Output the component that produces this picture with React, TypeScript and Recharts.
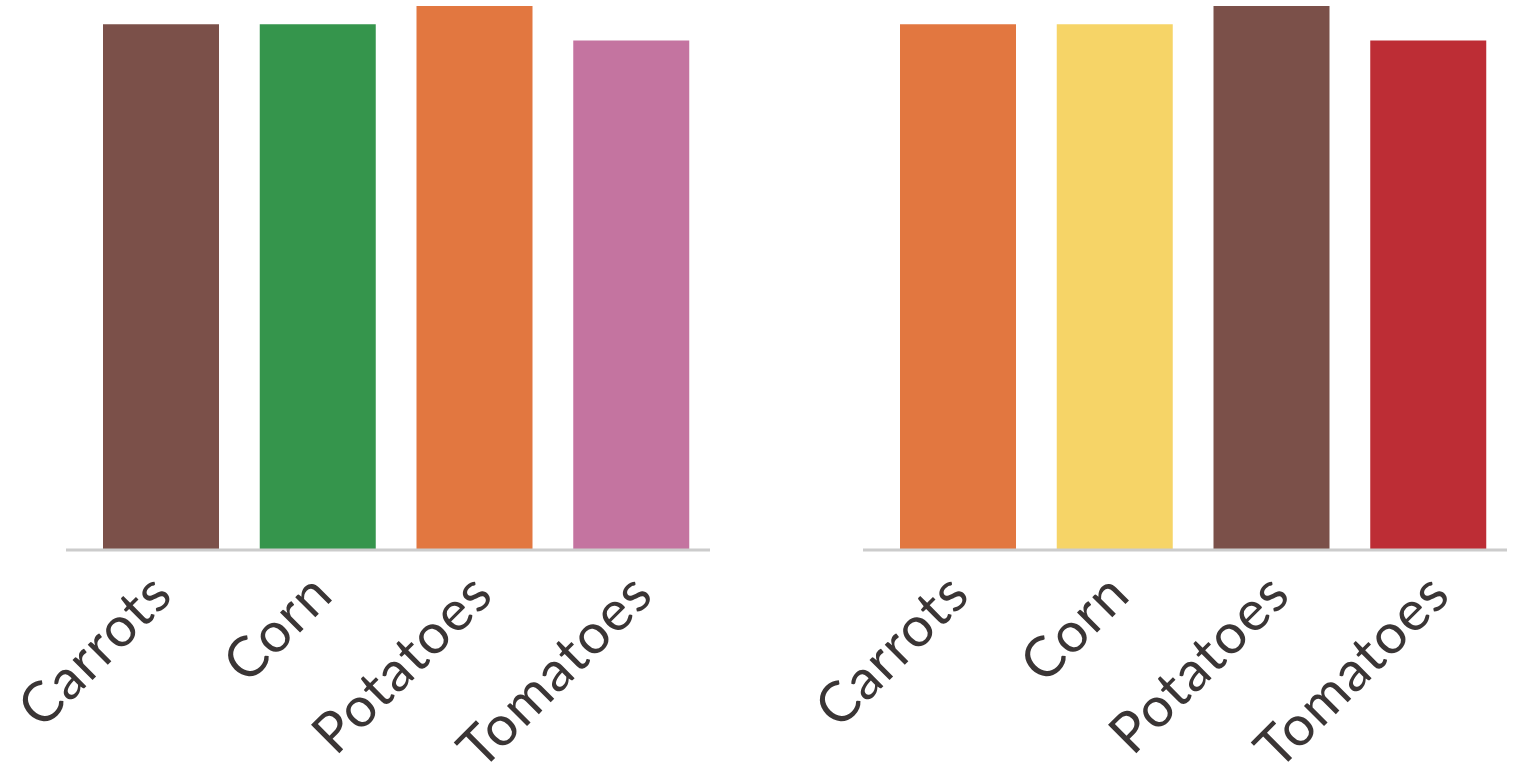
import { BarChart, Bar, XAxis, YAxis, Cell } from 'recharts'

const categories = ['Carrots', 'Corn', 'Potatoes', 'Tomatoes']
const values = [29, 29, 30, 28.1]
const leftColors = ['#7b5049', '#35954c', '#e27740', '#c474a0']
const rightColors = ['#e27740', '#f6d467', '#7b5049', '#bd2d35']

const data = categories.map((name, i) => ({ name, value: values[i] }))

function AngledTick({
  x,
  y,
  index,
  payload,
}: {
  x?: number
  y?: number
  index?: number
  payload?: { value: string }
}) {
  // labels sit on a slightly wider grid than the bars
  const dx = 14 + (index ?? 0) * 3.4
  return (
    <g transform={`translate(${(x ?? 0) + dx},${(y ?? 0) + 39})`}>
      <text
        transform="rotate(-45)"
        textAnchor="end"
        fill="#3a3535"
        fontSize={56}
        letterSpacing={1.2}
        fontFamily="Lato, sans-serif"
      >
        {payload?.value}
      </text>
    </g>
  )
}

function VegChart({ colors, width, right }: { colors: string[]; width: number; right: number }) {
  return (
    <BarChart
      width={width}
      height={765}
      data={data}
      margin={{ top: 6, right, bottom: 0, left: 66 }}
      barSize={116}
    >
      <YAxis hide domain={[0, 30]} />
      <XAxis
        dataKey="name"
        height={215}
        padding={{ left: 17, right: 0 }}
        axisLine={{ stroke: '#cccccc', strokeWidth: 3 }}
        tickLine={false}
        interval={0}
        tick={<AngledTick />}
      />
      <Bar dataKey="value" isAnimationActive={false}>
        {data.map((d, i) => (
          <Cell key={d.name} fill={colors[i]} />
        ))}
      </Bar>
    </BarChart>
  )
}

export default function App() {
  return (
    <div style={{ position: 'absolute', left: 0, top: 0, display: 'flex', background: '#fff' }}>
      <VegChart colors={leftColors} width={797} right={87} />
      <VegChart colors={rightColors} width={716} right={6} />
    </div>
  )
}
